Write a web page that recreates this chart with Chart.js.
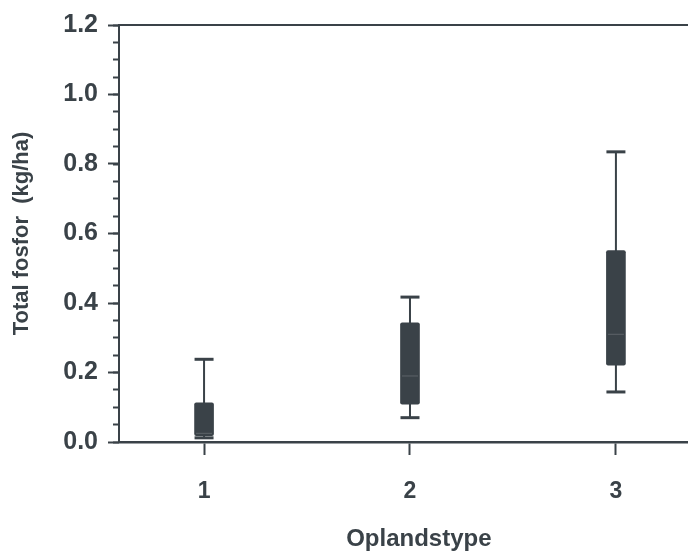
<!DOCTYPE html>
<html>
<head>
<meta charset="utf-8">
<script src="https://cdn.jsdelivr.net/npm/chart.js@4/dist/chart.umd.min.js"></script>
<style>
  html, body { margin: 0; padding: 0; background: #fff; }
  #wrap { width: 688px; height: 552px; }
</style>
</head>
<body>
<div id="wrap"><canvas id="chart" width="688" height="552"></canvas></div>
<script>
// data (kg/ha)
const categories = [1, 2, 3];
const whiskerLow = [0.012, 0.070, 0.144];
const q1 = [0.018, 0.109, 0.221];
const median = [0.025, 0.190, 0.310];
const q3 = [0.113, 0.343, 0.551];
const whiskerHigh = [0.238, 0.417, 0.835];
const yTickLabels = ['0.0', '0.2', '0.4', '0.6', '0.8', '1.0', '1.2'];

const ink = '#3a4248';
const fontFamily = '"Liberation Sans", Arial, Helvetica, sans-serif';

const boxData = categories.map((c, i) => ({ x: c, y: [q1[i], q3[i]] }));
const whiskerData = categories.flatMap((c, i) => [
    { x: c, y: whiskerLow[i] }, { x: c, y: whiskerHigh[i] }, { x: c, y: null }
]);
const capData = categories.flatMap((c, i) => [
    { x: c, y: whiskerLow[i] }, { x: c, y: whiskerHigh[i] }
]);
const medianData = categories.map((c, i) => ({ x: c, y: median[i] }));

const xMin = 0.587, xMax = 3.35;

new Chart(document.getElementById('chart'), {
    type: 'bar',
    data: {
        datasets: [
            {
                type: 'scatter',
                data: medianData,
                pointStyle: 'line',
                pointRadius: 8,
                borderWidth: 1,
                borderColor: 'rgba(255,255,255,0.18)',
                order: 0
            },
            {
                type: 'scatter',
                data: capData,
                pointStyle: 'line',
                pointRadius: 9.5,
                borderWidth: 3,
                borderColor: ink,
                order: 1
            },
            {
                data: boxData,
                backgroundColor: ink,
                borderWidth: 0,
                barThickness: 19,
                borderRadius: 2,
                borderSkipped: false,
                order: 2
            },
            {
                type: 'line',
                data: whiskerData,
                borderColor: ink,
                borderWidth: 2,
                pointRadius: 0,
                spanGaps: false,
                order: 3
            }
        ]
    },
    options: {
        responsive: false,
        animation: false,
        events: [],
        // the caps' point radius would otherwise add padding on the right
        layout: { autoPadding: false, padding: { top: 24, right: 0, left: 0, bottom: 0 } },
        plugins: { legend: { display: false }, tooltip: { enabled: false } },
        scales: {
            x: {
                type: 'linear',
                position: 'bottom',
                min: xMin,
                max: xMax,
                offset: false,
                afterBuildTicks: (scale) => { scale.ticks = categories.map(v => ({ value: v })); },
                afterFit: (scale) => { scale.height = 110; },
                ticks: {
                    color: ink,
                    padding: 23,
                    font: { family: fontFamily, size: 23, weight: 'bold' },
                    callback: (v) => String(v)
                },
                grid: { display: true, drawOnChartArea: false, offset: false, tickLength: 13, tickWidth: 2, tickColor: ink },
                border: { display: true, color: ink, width: 2.5 },
                title: {
                    display: true,
                    // title sits a little right of the axis centre in the original
                    text: '\u2002\u2002 Oplandstype',
                    color: ink,
                    padding: 0,
                    font: { family: fontFamily, size: 24, weight: 'bold', lineHeight: 1.05 }
                }
            },
            xTop: {
                type: 'linear',
                position: 'top',
                min: xMin,
                max: xMax,
                offset: false,
                afterFit: (scale) => { scale.height = 0; },
                ticks: { display: false },
                grid: { display: true, drawOnChartArea: false, drawTicks: false },
                border: { display: true, color: ink, width: 2 }
            },
            y: {
                type: 'linear',
                position: 'left',
                min: 0,
                max: 1.2,
                weight: 1,
                afterBuildTicks: (scale) => { scale.ticks = yTickLabels.map(t => ({ value: parseFloat(t) })); },
                afterFit: (scale) => { scale.width = 119; },
                ticks: {
                    color: ink,
                    padding: 10,
                    font: { family: fontFamily, size: 25, weight: 'bold' },
                    callback: (v) => yTickLabels.find(t => Math.abs(parseFloat(t) - v) < 1e-6) || ''
                },
                grid: { display: true, drawOnChartArea: false, tickLength: 11, tickWidth: 2, tickColor: ink },
                border: { display: true, color: ink, width: 2 },
                title: {
                    display: true,
                    text: 'Total fosfor  (kg/ha)',
                    color: ink,
                    padding: { top: 9, bottom: 0 },
                    font: { family: fontFamily, size: 22, weight: 'bold' }
                }
            },
            yMinor: {
                type: 'linear',
                position: 'left',
                min: 0,
                max: 1.2,
                weight: 0,
                afterFit: (scale) => { scale.width = 0; },
                ticks: { display: false, stepSize: 0.05, maxTicksLimit: 40 },
                grid: { display: true, drawOnChartArea: false, tickLength: 6, tickWidth: 2, tickColor: ink },
                border: { display: false }
            }
        }
    }
});
</script>
</body>
</html>
